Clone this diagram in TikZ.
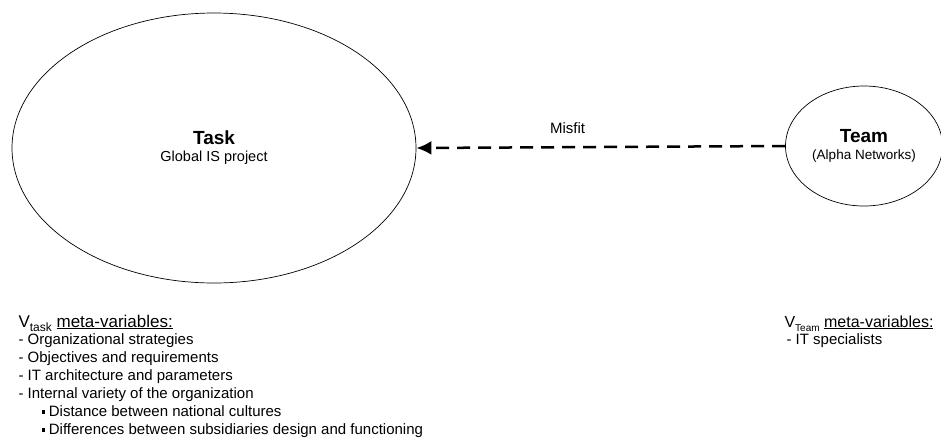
\documentclass[tikz,border=0pt]{standalone}
\usepackage{fontspec}
\setmainfont{Liberation Sans}
\usetikzlibrary{shapes.geometric,arrows.meta,positioning}

\begin{document}
\begin{tikzpicture}[x=1pt,y=-1pt, every node/.style={font=\fontsize{15}{17}\selectfont}]

\useasboundingbox (0,0) rectangle (941,437);
\clip (0,0) rectangle (941,437);

\tikzset{
  oval/.style={ellipse, draw, line width=0.7pt, align=center, inner sep=0pt},
  vhead/.style={anchor=base west, font=\fontsize{17}{18}\selectfont},
  item/.style={anchor=base west}
}
\newcommand{\sqbullet}{\raisebox{2.5pt}{\rule{3.2pt}{3.2pt}}}
\newcommand{\vsub}[1]{{\fontsize{12}{12}\selectfont\raisebox{-4pt}{#1}}}

\node[oval, minimum width=404pt, minimum height=270pt] (task) at (214,148)
   {{\fontsize{19}{22}\selectfont\bfseries Task}\\{\fontsize{14.5}{17}\selectfont Global IS project}};
\node[oval, minimum width=157pt, minimum height=120pt] (team) at (864,146)
   {{\fontsize{19}{22}\selectfont\bfseries Team}\\{\fontsize{13.5}{16}\selectfont (Alpha Networks)}};

\draw[line width=2.5pt, dash pattern=on 13pt off 8pt, -{Latex[length=15pt,width=14pt]}]
   (team.west) -- (task.east) node[pos=0.59, above=9pt] (misfit) {Misfit};

% task meta-variables
\node[vhead] (vtask) at (15,327) {V\vsub{task} \underline{meta-variables:}};
\foreach \txt [count=\i] in {Organizational strategies, Objectives and requirements,
   IT architecture and parameters, Internal variety of the organization}
   {
	\node[item] (taskitem\i) at (15, 326+18*\i) {- \txt};
   };
\node[item] (tasksub1) at (38,416) {\sqbullet\ Distance between national cultures};
\node[item] (tasksub2) at (38,434) {\sqbullet\ Differences between subsidiaries design and functioning};

% team meta-variables
\node[vhead, font=\fontsize{16}{18}\selectfont] (vteam) at (781,327)
   {V{\fontsize{10}{10}\selectfont\raisebox{-4pt}{Team}} \underline{meta-variables:}};
\node[item] (teamitem1) at (783,344) {- IT specialists};
\end{tikzpicture}
\end{document}
